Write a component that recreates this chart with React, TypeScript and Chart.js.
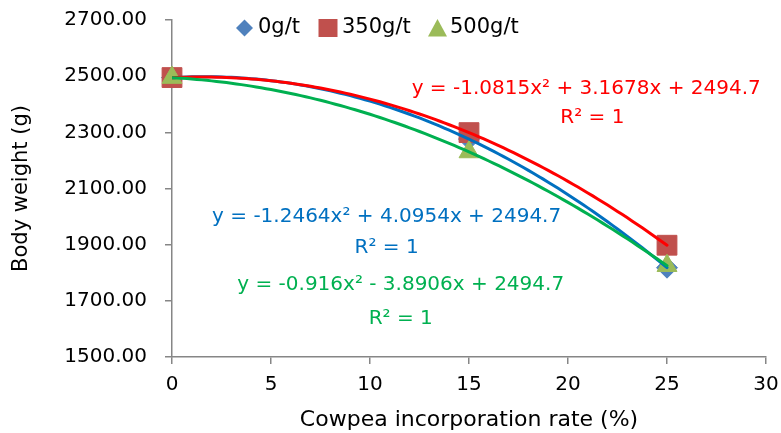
import React, { useEffect, useRef } from 'react';
import { Chart, registerables } from 'chart.js';

Chart.register(...registerables);

// ---- data ----
const seriesNames = ['0g/t', '350g/t', '500g/t'];
const ratePercent = [0, 15, 25];
const weight0 = [2495, 2276, 1818];
const weight350 = [2495, 2299, 1898];
const weight500 = [2495, 2230, 1825];
// trendline coefficients (y = a x^2 + b x + c), as printed on the chart
const trendA = [-1.2464, -1.0815, -0.916];
const trendB = [4.0954, 3.1678, -3.8906];
const trendC = [2494.7, 2494.7, 2494.7];
const trendMaxX = 25;
const equationTexts = [
  'y = -1.2464x² + 4.0954x + 2494.7',
  'y = -1.0815x² + 3.1678x + 2494.7',
  'y = -0.916x² - 3.8906x + 2494.7',
];
const r2Text = 'R² = 1';
const xTickStep = 5;
const yTickStep = 200;

// ---- styling ----
const FONT = 'DejaVu Sans';
const markerColors = ['#4F81BD', '#C0504D', '#9BBB59'];
const trendColors = ['#0070C0', '#FF0000', '#00B050'];
const markerStyles = ['rectRot', 'rect', 'triangle'];
const markerRadii = [10.5, 14, 11.5];
const axisGray = '#868686';
// label anchors in data coordinates
const eqAnchors = [
  { x: 10.84, y: 2000, r2y: 1890 },
  { x: 20.92, y: 2456, r2y: 2350, r2x: 21.23 },
  { x: 11.55, y: 1758, r2y: 1637 },
];
const legendLayout = { y: 28, markers: [244.5, 328, 437.5], texts: [258, 342, 450] };

const zeroPadding = (scale: any) => {
  scale.paddingTop = 0;
  scale.paddingBottom = 0;
  scale.paddingLeft = 0;
  scale.paddingRight = 0;
};

const trendPlugin = {
  id: 'trendlines',
  afterDatasetsDraw(chart: any) {
    const { ctx, chartArea, scales } = chart;
    const xs = scales.x;
    const ys = scales.y;
    ctx.save();
    ctx.beginPath();
    ctx.rect(chartArea.left, chartArea.top, chartArea.right - chartArea.left, chartArea.bottom - chartArea.top);
    ctx.clip();
    for (let s = 0; s < 3; s++) {
      ctx.beginPath();
      ctx.strokeStyle = trendColors[s];
      ctx.lineWidth = 3;
      ctx.lineJoin = 'round';
      ctx.lineCap = 'round';
      const n = 100;
      for (let i = 0; i <= n; i++) {
        const xv = (trendMaxX * i) / n;
        const yv = trendA[s] * xv * xv + trendB[s] * xv + trendC[s];
        const px = xs.getPixelForValue(xv);
        const py = ys.getPixelForValue(yv);
        if (i === 0) ctx.moveTo(px, py);
        else ctx.lineTo(px, py);
      }
      ctx.stroke();
    }
    ctx.restore();
  },
  afterDraw(chart: any) {
    const { ctx, scales } = chart;
    const xs = scales.x;
    const ys = scales.y;
    ctx.save();
    // equation labels
    ctx.font = `20px "${FONT}"`;
    ctx.textAlign = 'center';
    ctx.textBaseline = 'middle';
    for (let s = 0; s < 3; s++) {
      const a = eqAnchors[s] as any;
      ctx.fillStyle = trendColors[s];
      ctx.fillText(equationTexts[s], xs.getPixelForValue(a.x), ys.getPixelForValue(a.y));
      ctx.fillText(r2Text, xs.getPixelForValue(a.r2x ?? a.x), ys.getPixelForValue(a.r2y));
    }
    // legend
    const ly = legendLayout.y;
    for (let s = 0; s < 3; s++) {
      const mx = legendLayout.markers[s];
      ctx.fillStyle = markerColors[s];
      ctx.beginPath();
      if (s === 0) {
        const h = 8.5;
        ctx.moveTo(mx, ly - h);
        ctx.lineTo(mx + h, ly);
        ctx.lineTo(mx, ly + h);
        ctx.lineTo(mx - h, ly);
        ctx.closePath();
      } else if (s === 1) {
        ctx.rect(mx - 9.5, ly - 9, 19, 18);
      } else {
        ctx.moveTo(mx, ly - 9);
        ctx.lineTo(mx + 9.5, ly + 8.5);
        ctx.lineTo(mx - 9.5, ly + 8.5);
        ctx.closePath();
      }
      ctx.fill();
      ctx.fillStyle = '#000';
      ctx.font = `21px "${FONT}"`;
      ctx.textAlign = 'left';
      ctx.textBaseline = 'middle';
      ctx.fillText(seriesNames[s], legendLayout.texts[s], ly);
    }
    ctx.restore();
  },
};

export default function App() {
  const ref = useRef<HTMLCanvasElement | null>(null);
  useEffect(() => {
    if (!ref.current) return;
    const seriesValues = [weight0, weight350, weight500];
    const order = [2, 1, 0];
    const chart = new Chart(ref.current, {
      type: 'scatter',
      data: {
        datasets: seriesValues.map((vals, s) => ({
          label: seriesNames[s],
          data: ratePercent.map((x, i) => ({ x, y: vals[i] })),
          pointStyle: markerStyles[s] as any,
          pointRadius: markerRadii[s],
          pointHoverRadius: markerRadii[s],
          backgroundColor: markerColors[s],
          borderColor: markerColors[s],
          borderWidth: 1,
          showLine: false,
          clip: false,
          order: order[s],
        })),
      },
      options: {
        responsive: false,
        animation: false,
        devicePixelRatio: 1,
        events: [],
        layout: { padding: { top: 20, right: 14, bottom: 0, left: 0 } },
        plugins: { legend: { display: false }, tooltip: { enabled: false }, title: { display: false } },
        scales: {
          x: {
            type: 'linear',
            min: 0,
            max: 30,
            afterFit: (scale: any) => {
              scale.height = 76;
              zeroPadding(scale);
            },
            ticks: {
              stepSize: xTickStep,
              color: '#000',
              font: { family: FONT, size: 20 },
              padding: 9,
              maxRotation: 0,
            },
            grid: { drawOnChartArea: false, drawTicks: true, tickLength: 7, color: axisGray, lineWidth: 1.5 },
            border: { display: true, color: axisGray, width: 1.5 },
            title: {
              display: true,
              text: 'Cowpea incorporation rate (%)',
              color: '#000',
              font: { family: FONT, size: 22 },
              padding: { top: 0, bottom: 0 },
            },
          },
          y: {
            type: 'linear',
            min: 1500,
            max: 2700,
            afterFit: (scale: any) => {
              scale.width = 172;
              zeroPadding(scale);
            },
            ticks: {
              stepSize: yTickStep,
              color: '#000',
              font: { family: FONT, size: 20 },
              padding: 18,
              callback: (v: any) => Number(v).toFixed(2),
            },
            grid: { drawOnChartArea: false, drawTicks: true, tickLength: 7, color: axisGray, lineWidth: 1.5 },
            border: { display: true, color: axisGray, width: 1.5 },
            title: {
              display: true,
              text: 'Body weight (g)',
              color: '#000',
              font: { family: FONT, size: 21 },
              padding: { top: 9, bottom: 0 },
            },
          },
        },
      },
      plugins: [trendPlugin],
    });
    return () => chart.destroy();
  }, []);
  return (
    <div style={{ position: 'fixed', left: 0, top: 0, width: 781, height: 433, background: '#fff' }}>
      <canvas ref={ref} width={781} height={433} style={{ width: 781, height: 433, display: 'block' }} />
    </div>
  );
}
